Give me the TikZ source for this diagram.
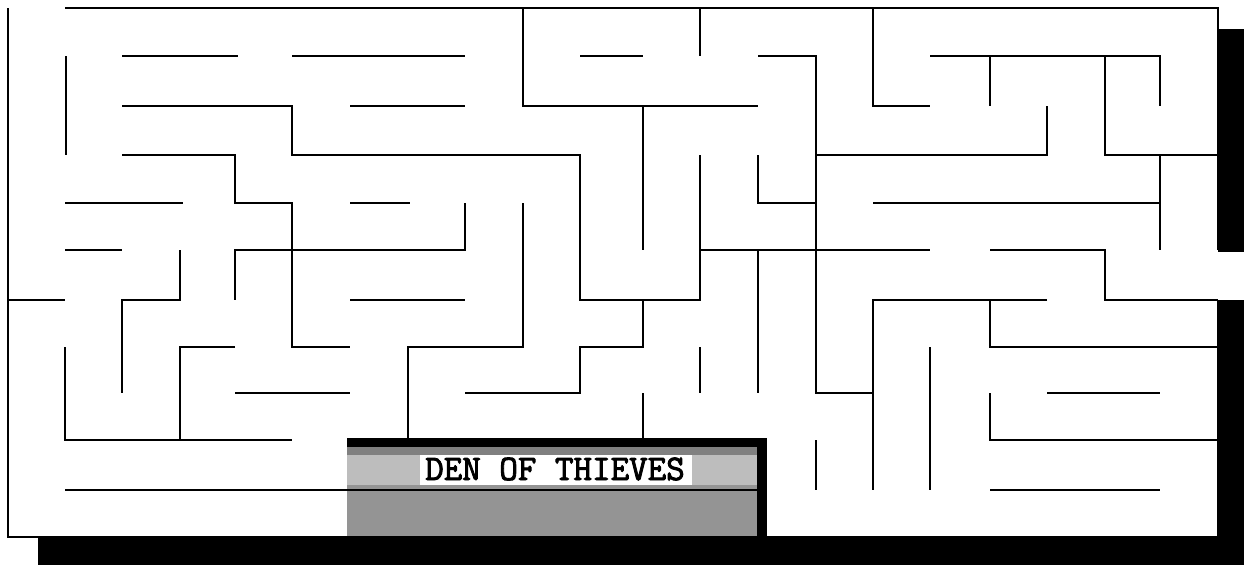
\documentclass[tikz,border=0pt]{standalone}
\usepackage{fontspec}
\usepackage{graphicx}
\newfontfamily\labelfont[FakeBold=2.5]{Latin Modern Mono}
\begin{document}
\begin{tikzpicture}[x=1pt,y=-1pt,
  wall/.style={line width=2.6pt, line join=miter},
  shadowfill/.style={fill=black},
  paneltop/.style={fill=black!50},
  panelbase/.style={fill=black!42},
  panelside/.style={fill=black!26},
  titletext/.style={inner sep=0pt, anchor=base, font=\labelfont\bfseries\fontsize{36}{37}\selectfont}]
\useasboundingbox (0,0) rectangle (1247,565);
\fill[white] (0,0) rectangle (1247,565);
% drop shadow
\fill[shadowfill] (1218,29) rectangle (1244,252);
\fill[shadowfill] (1218,300) rectangle (1244,565);
\fill[shadowfill] (38,536) rectangle (1244,565);
% outer border (entrance top left, exit right)
\draw[wall] (65,8) -- (1218,8) -- (1218,250);
\draw[wall] (1218,300) -- (1218,537) -- (8,537) -- (8,8);
% interior walls
\draw[wall] (122,56) -- (238,56);
\draw[wall] (292,56) -- (465,56);
\draw[wall] (66,56) -- (66,155);
\draw[wall] (122,106) -- (292,106) -- (292,155) -- (580,155) -- (580,300) -- (700,300) -- (700,155);
\draw[wall] (350,106) -- (465,106);
\draw[wall] (523,8) -- (523,106) -- (758,106);
\draw[wall] (580,56) -- (643,56);
\draw[wall] (700,8) -- (700,56);
\draw[wall] (643,106) -- (643,250);
\draw[wall] (758,155) -- (758,203) -- (816,203);
\draw[wall] (758,56) -- (816,56) -- (816,393) -- (873,393);
\draw[wall] (873,8) -- (873,106) -- (930,106);
\draw[wall] (930,56) -- (1160,56) -- (1160,106);
\draw[wall] (990,56) -- (990,106);
\draw[wall] (1105,56) -- (1105,155) -- (1218,155);
\draw[wall] (816,155) -- (1047,155) -- (1047,106);
\draw[wall] (873,203) -- (1160,203);
\draw[wall] (1160,155) -- (1160,250);
\draw[wall] (122,155) -- (235,155) -- (235,203) -- (292,203) -- (292,347) -- (350,347);
\draw[wall] (65,203) -- (183,203);
\draw[wall] (350,203) -- (410,203);
\draw[wall] (465,203) -- (465,250) -- (235,250) -- (235,300);
\draw[wall] (523,203) -- (523,347) -- (408,347) -- (408,440);
\draw[wall] (65,250) -- (122,250);
\draw[wall] (180,250) -- (180,300) -- (122,300) -- (122,393);
\draw[wall] (8,300) -- (65,300);
\draw[wall] (350,300) -- (465,300);
\draw[wall] (643,300) -- (643,347) -- (580,347) -- (580,393) -- (465,393);
\draw[wall] (700,250) -- (930,250);
\draw[wall] (758,250) -- (758,393);
\draw[wall] (700,347) -- (700,393);
\draw[wall] (1047,300) -- (873,300) -- (873,490);
\draw[wall] (990,250) -- (1105,250) -- (1105,300) -- (1218,300);
\draw[wall] (990,300) -- (990,347) -- (1218,347);
\draw[wall] (930,347) -- (930,490);
\draw[wall] (990,393) -- (990,440) -- (1218,440);
\draw[wall] (1047,393) -- (1160,393);
\draw[wall] (990,490) -- (1160,490);
\draw[wall] (816,440) -- (816,490);
\draw[wall] (643,393) -- (643,438);
\draw[wall] (65,347) -- (65,440) -- (292,440);
\draw[wall] (235,347) -- (180,347) -- (180,440);
\draw[wall] (235,393) -- (350,393);
% title panel
\fill[black] (347,438) rectangle (767,536);
\fill[panelbase] (347,447) rectangle (757,536);
\fill[paneltop] (347,447) rectangle (757,455);
\fill[panelside] (347,455) rectangle (757,485);
\fill[white] (420,455) rectangle (692,485);
\draw[wall] (65,490) -- (757,490);
\node[titletext] (title) at (555,480) {DEN OF THIEVES};
\end{tikzpicture}
\end{document}
